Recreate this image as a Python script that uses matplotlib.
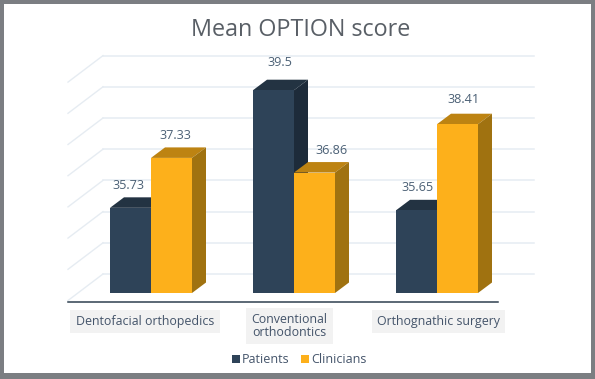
import matplotlib
matplotlib.use('Agg')
import matplotlib.pyplot as plt

categories = ['Dentofacial orthopedics', 'Conventional\northodontics', 'Orthognathic surgery']
patients = [35.73, 39.5, 35.65]
clinicians = [37.33, 36.86, 38.41]
grid_values = [33, 34, 35, 36, 37, 38, 39, 40]

W, H = 595, 379
X0, XS = 151.0, 143.0   # pixel of first group, pixels per group
Y0, YS = 293.0, 31.2    # pixel of value 33, pixels per unit
BASE = 33

plt.rcParams['font.family'] = ['Open Sans', 'DejaVu Sans']

fig = plt.figure(figsize=(W / 100, H / 100), dpi=100, facecolor='#7b7e82')
left, right, top, bottom = 4, 591, 4.3, 373
ax = fig.add_axes([left / W, 1 - bottom / H, (right - left) / W, (bottom - top) / H])
ax.set_facecolor('white')
ax.set_xlim((left - X0) / XS, (right - X0) / XS)
ax.set_ylim(BASE - (bottom - Y0) / YS, BASE + (Y0 - top) / YS)
ax.set_xticks([])
ax.set_yticks([])
for s in ax.spines.values():
    s.set_visible(False)


def px(x):
    return (x - X0) / XS


def py(y):
    return BASE + (Y0 - y) / YS


# wall and floor lines of the fake 3d box
wall_drop = py(274) - BASE
for v in grid_values:
    ax.plot([px(103), px(534)], [v + wall_drop] * 2, color='#e6ecf2', lw=1.1, zorder=1)
    ax.plot([px(68), px(103)], [v + wall_drop - 26.5 / YS, v + wall_drop],
            color='#e6ecf2', lw=1.0, zorder=1)
ax.plot([px(68), px(498)], [py(301.7)] * 2, color='#2f4050', lw=1.1, zorder=2)

bar_w = 41 / XS
dx = 14 / XS
dy = 10.5 / YS


def bars3d(xs, values, front, roof, side, z, label):
    ax.bar(xs, [v - BASE for v in values], bar_w, bottom=BASE, color=front,
           zorder=z + 0.2, label=label)
    for x, v in zip(xs, values):
        l, r = x - bar_w / 2, x + bar_w / 2
        ax.fill([l, r, r + dx, l + dx], [v, v, v + dy, v + dy], color=roof, lw=0, zorder=z)
        ax.fill([r, r + dx, r + dx, r], [BASE, BASE + dy, v + dy, v], color=side, lw=0, zorder=z)


pos = range(len(categories))
bars3d([i - bar_w / 2 for i in pos], patients, '#2e4358', '#233342', '#1d2b3a', 3, 'Patients')
bars3d([i + bar_w / 2 for i in pos], clinicians, '#fdb01b', '#bd8312', '#a07210', 4, 'Clinicians')

# value labels, offsets in pixels from the top of each front face
patient_off = [(-2.5, 22.7), (6.5, 28), (1, 23)]
clinician_off = [(4, 22.7), (16.5, 22.5), (6.5, 25)]
for i in pos:
    for side, vals, off in ((-1, patients, patient_off), (1, clinicians, clinician_off)):
        ax.annotate(str(vals[i]), (i + side * bar_w / 2, vals[i]),
                    xytext=(off[i][0] * 0.72, off[i][1] * 0.72), textcoords='offset points',
                    ha='center', va='center', fontsize=9.1, color='#4b6075', zorder=6)

# category labels on grey boxes
label_x = [145, 289.5, 438.5]
label_y = [321.5, 326, 321.5]
for name, x, y in zip(categories, label_x, label_y):
    ax.text(px(x), py(y), name, ha='center', va='center', fontsize=8.95, color='#44546a',
            linespacing=1.0, multialignment='center', zorder=6,
            bbox=dict(facecolor='#f2f2f2', edgecolor='none', pad=3.9))

ax.text(px(300.5), py(30.5), 'Mean OPTION score', ha='center', va='center',
        fontsize=16.8, color='#595f66', zorder=6)

leg = ax.legend(loc='center', bbox_to_anchor=(px(299), py(359.5)),
                bbox_transform=ax.transData, ncol=2, frameon=False, fontsize=9.0,
                handlelength=0.62, handleheight=0.62, handletextpad=0.16, columnspacing=0.95,
                labelcolor='#44546a', borderpad=0, borderaxespad=0)

fig.savefig('out.png', dpi=100, facecolor=fig.get_facecolor())
